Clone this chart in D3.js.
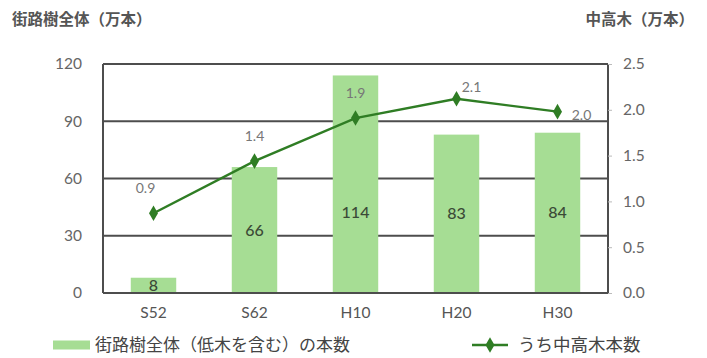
<!DOCTYPE html>
<html>
<head>
<meta charset="utf-8">
<script src="https://cdn.jsdelivr.net/npm/d3@7/dist/d3.min.js"></script>
<style>
  html, body { margin: 0; padding: 0; background: #fff; }
  svg { display: block; }
  .jp { font-family: "Noto Sans CJK JP", "Noto Sans", sans-serif; }
  .num { font-family: "Lato", "Noto Sans", sans-serif; }
</style>
</head>
<body>
<script>
// ---- data ----
const categories = ["S52", "S62", "H10", "H20", "H30"];
const totalTrees = [8, 66, 114, 83, 84];            // 街路樹全体（万本）
const tallTrees = [0.87, 1.44, 1.91, 2.12, 1.98];   // うち中高木（万本）
const leftTicks = [0, 30, 60, 90, 120];
const rightTicks = [0, 0.5, 1.0, 1.5, 2.0, 2.5];
const tallLabelPlacement = ["above", "above", "above", "aboveRight", "right"];
const leftTitle = "街路樹全体（万本）";
const rightTitle = "中高木（万本）";
const legendBar = "街路樹全体（低木を含む）の本数";
const legendLine = "うち中高木本数";

// ---- layout ----
const W = 707, H = 358;
const margin = { top: 64, right: 99, bottom: 65, left: 103 };
const iw = W - margin.left - margin.right;
const ih = H - margin.top - margin.bottom;

const barColor = "#a6dd94";
const lineColor = "#2f7d24";
const gridColor = "#4d4d4d";

const svg = d3.select("body").append("svg").attr("width", W).attr("height", H);
const g = svg.append("g").attr("transform", `translate(${margin.left},${margin.top})`);

const x = d3.scaleBand().domain(categories).range([0, iw]).paddingInner(0.55).paddingOuter(0.275);
const yL = d3.scaleLinear().domain([0, 120]).range([ih, 0]);
const yR = d3.scaleLinear().domain([0, 2.5]).range([ih, 0]);

// gridlines (behind bars)
g.append("g").selectAll("line").data(leftTicks).join("line")
  .attr("x1", 0).attr("x2", iw)
  .attr("y1", d => yL(d)).attr("y2", d => yL(d))
  .attr("stroke", gridColor).attr("stroke-width", 2);

// bars
g.append("g").selectAll("rect").data(totalTrees).join("rect")
  .attr("x", (d, i) => x(categories[i]))
  .attr("width", x.bandwidth())
  .attr("y", d => yL(d))
  .attr("height", d => ih - yL(d))
  .attr("fill", barColor);

// frame lines
g.append("line").attr("x1", 0).attr("x2", iw).attr("y1", ih).attr("y2", ih)
  .attr("stroke", gridColor).attr("stroke-width", 2.2);
g.append("line").attr("x1", 0).attr("x2", 0).attr("y1", 0).attr("y2", ih)
  .attr("stroke", gridColor).attr("stroke-width", 2);
g.append("line").attr("x1", iw).attr("x2", iw).attr("y1", 0).attr("y2", ih)
  .attr("stroke", gridColor).attr("stroke-width", 2);

// left axis labels
const leftAxis = d3.axisLeft(yL).tickValues(leftTicks).tickSize(0).tickPadding(21);
const la = g.append("g").call(leftAxis);
la.select(".domain").remove();
la.selectAll("text").attr("class", "num").attr("font-size", 15.5).attr("fill", "#666");

// right axis
const rightAxis = d3.axisRight(yR).tickValues(rightTicks).tickSize(4).tickPadding(11)
  .tickFormat(d3.format(".1f"));
const ra = g.append("g").attr("transform", `translate(${iw},0)`).call(rightAxis);
ra.select(".domain").remove();
ra.selectAll("line").attr("stroke", "#bbb");
ra.selectAll("text").attr("class", "num").attr("font-size", 15.5).attr("fill", "#666");

// x axis labels
const xAxis = d3.axisBottom(x).tickSize(0).tickPadding(14);
const xa = g.append("g").attr("transform", `translate(0,${ih})`).call(xAxis);
xa.select(".domain").remove();
xa.selectAll("text").attr("class", "num").attr("font-size", 15.5).attr("fill", "#555");

// bar value labels
g.append("g").selectAll("text").data(totalTrees).join("text")
  .attr("class", "num")
  .attr("x", (d, i) => x(categories[i]) + x.bandwidth() / 2)
  .attr("y", d => yL(Math.min(d / 2, 42)))
  .attr("dy", "0.35em")
  .attr("text-anchor", "middle")
  .attr("font-size", 16).attr("font-weight", 500)
  .attr("fill", "#3b4a37")
  .text(d => d);

// line
const cx = i => x(categories[i]) + x.bandwidth() / 2;
const line = d3.line().x((d, i) => cx(i)).y(d => yR(d));
g.append("path").datum(tallTrees)
  .attr("d", line).attr("fill", "none")
  .attr("stroke", lineColor).attr("stroke-width", 2.4);

const diamond = d3.symbol().type(d3.symbolDiamond).size(70);
g.append("g").selectAll("path").data(tallTrees).join("path")
  .attr("d", diamond)
  .attr("transform", (d, i) => `translate(${cx(i)},${yR(d)})`)
  .attr("fill", lineColor);

// line value labels
g.append("g").selectAll("text").data(tallTrees).join("text")
  .attr("class", "num")
  .attr("x", (d, i) => {
    const p = tallLabelPlacement[i];
    return cx(i) + (p === "right" ? 24 : p === "aboveRight" ? 15 : (i === 0 ? -8 : 0));
  })
  .attr("y", (d, i) => {
    const p = tallLabelPlacement[i];
    return yR(d) + (p === "right" ? 3 : p === "aboveRight" ? -12 : -25);
  })
  .attr("dy", "0.35em")
  .attr("text-anchor", "middle")
  .attr("font-size", 14)
  .attr("fill", "#777")
  .text(d => d3.format(".1f")(d));

// titles
svg.append("text").attr("class", "jp")
  .attr("x", 12).attr("y", 20).attr("dy", "0.35em")
  .attr("font-size", 15.5).attr("font-weight", 700).attr("fill", "#555")
  .text(leftTitle);
svg.append("text").attr("class", "jp")
  .attr("x", 694).attr("y", 20).attr("dy", "0.35em")
  .attr("text-anchor", "end")
  .attr("font-size", 15.5).attr("font-weight", 700).attr("fill", "#555")
  .text(rightTitle);

// legend
const ly = 345;
const lg = svg.append("g");
lg.append("rect").attr("x", 53).attr("y", ly - 4.5).attr("width", 37).attr("height", 9).attr("fill", barColor);
lg.append("text").attr("class", "jp")
  .attr("x", 95).attr("y", ly).attr("dy", "0.35em")
  .attr("font-size", 17).attr("fill", "#444")
  .text(legendBar);
lg.append("line").attr("x1", 472).attr("x2", 508).attr("y1", ly).attr("y2", ly)
  .attr("stroke", lineColor).attr("stroke-width", 2.4);
lg.append("path").attr("d", diamond).attr("transform", `translate(490,${ly})`).attr("fill", lineColor);
lg.append("text").attr("class", "jp")
  .attr("x", 518).attr("y", ly).attr("dy", "0.35em")
  .attr("font-size", 17.5).attr("fill", "#444")
  .text(legendLine);
</script>
</body>
</html>
